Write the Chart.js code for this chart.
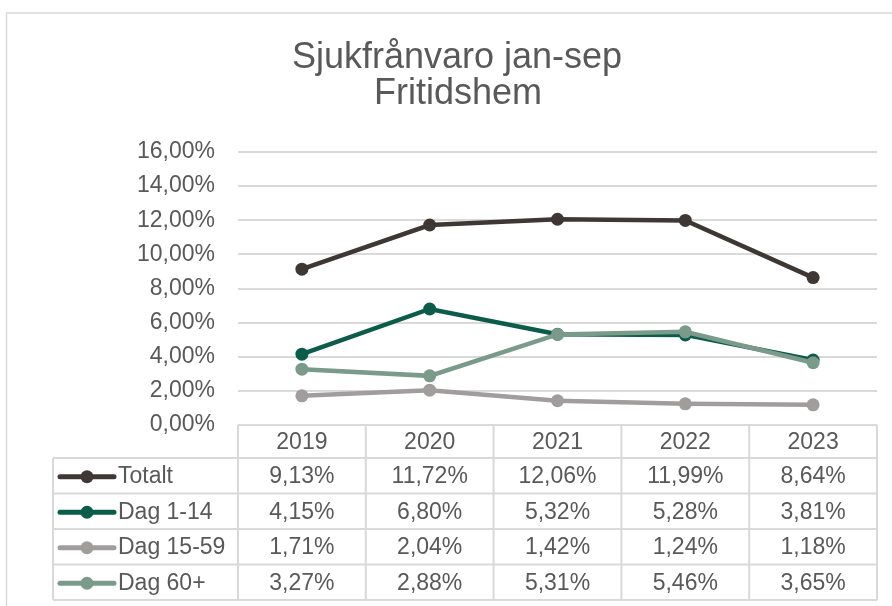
<!DOCTYPE html>
<html lang="sv">
<head>
<meta charset="UTF-8">
<title>Sjukfrånvaro jan-sep Fritidshem</title>
<script src="https://cdn.jsdelivr.net/npm/chart.js"></script>
<style>
    html, body {
        margin: 0;
        padding: 0;
        background: #ffffff;
    }
    #chart-container {
        width: 892px;
        height: 606px;
        position: relative;
    }
</style>
</head>
<body>
<div id="chart-container">
    <canvas id="sick-chart"></canvas>
</div>
<script>
    // Data (procent)
    const years = ['2019', '2020', '2021', '2022', '2023'];
    const seriesNames = ['Totalt', 'Dag 1-14', 'Dag 15-59', 'Dag 60+'];
    const totalt = [9.13, 11.72, 12.06, 11.99, 8.64];
    const dag1_14 = [4.15, 6.80, 5.32, 5.28, 3.81];
    const dag15_59 = [1.71, 2.04, 1.42, 1.24, 1.18];
    const dag60 = [3.27, 2.88, 5.31, 5.46, 3.65];
    const titleLines = ['Sjukfrånvaro jan-sep', 'Fritidshem'];

    const colors = ['#3f3734', '#0b5c4a', '#a29d9d', '#7a9a8a'];
    const textColor = '#595959';
    const lineColor = '#d9d9d9';
    const fontFamily = '"Liberation Sans", Arial, sans-serif';

    function fmt(v) {
        return v.toFixed(2).replace('.', ',') + '%';
    }

    // titel, ram och datatabell
    const tablePlugin = {
        id: 'tablePlugin',
        afterDraw(chart) {
            const ctx = chart.ctx;
            const area = chart.chartArea;
            const xs = chart.scales.x;
            ctx.save();

            // yttre ram
            ctx.strokeStyle = lineColor;
            ctx.lineWidth = 1.5;
            ctx.strokeRect(6.5, 13, 900, 620);

            // titel
            ctx.fillStyle = textColor;
            ctx.font = '36px ' + fontFamily;
            ctx.textAlign = 'center';
            ctx.textBaseline = 'alphabetic';
            ctx.fillText(titleLines[0], 457, 68);
            ctx.fillText(titleLines[1], 458, 104);

            const colW = (area.right - area.left) / years.length;
            const headTop = area.bottom;
            const headBottom = 458;
            const rowH = 35.5;
            const tableLeft = 53;
            const allData = [totalt, dag1_14, dag15_59, dag60];
            const bottom = headBottom + rowH * allData.length;

            ctx.strokeStyle = lineColor;
            ctx.lineWidth = 2;
            ctx.beginPath();
            // rubrikrad
            ctx.moveTo(area.left, headTop);
            ctx.lineTo(area.right, headTop);
            for (let r = 0; r <= allData.length; r++) {
                const y = headBottom + r * rowH;
                ctx.moveTo(tableLeft, y);
                ctx.lineTo(area.right, y);
            }
            ctx.moveTo(tableLeft, headBottom);
            ctx.lineTo(tableLeft, bottom);
            for (let c = 0; c <= years.length; c++) {
                const x = area.left + c * colW;
                ctx.moveTo(x, headTop);
                ctx.lineTo(x, bottom);
            }
            ctx.stroke();

            ctx.font = '23px ' + fontFamily;
            ctx.textBaseline = 'middle';
            ctx.fillStyle = textColor;
            ctx.textAlign = 'center';
            years.forEach((yr, i) => {
                ctx.fillText(yr, xs.getPixelForValue(i), (headTop + headBottom) / 2 + 1);
            });

            allData.forEach((vals, r) => {
                const cy = headBottom + r * rowH + rowH / 2 + 1;
                // förklaring
                ctx.strokeStyle = colors[r];
                ctx.lineWidth = 5;
                ctx.lineCap = 'round';
                ctx.beginPath();
                ctx.moveTo(60, cy);
                ctx.lineTo(114, cy);
                ctx.stroke();
                ctx.fillStyle = colors[r];
                ctx.beginPath();
                ctx.arc(87, cy, 6.5, 0, Math.PI * 2);
                ctx.fill();

                ctx.fillStyle = textColor;
                ctx.textAlign = 'left';
                ctx.fillText(seriesNames[r], 118, cy);
                ctx.textAlign = 'center';
                vals.forEach((v, i) => {
                    ctx.fillText(fmt(v), xs.getPixelForValue(i), cy);
                });
            });
            ctx.restore();
        }
    };

    const allSeries = [totalt, dag1_14, dag15_59, dag60];
    const datasets = allSeries.map((vals, i) => ({
        label: seriesNames[i],
        data: vals,
        borderColor: colors[i],
        backgroundColor: colors[i],
        borderWidth: 4.5,
        pointRadius: 6.5,
        pointBorderWidth: 0,
        pointHoverRadius: 6.5,
        tension: 0,
        order: 4 - i
    }));

    const ctx = document.getElementById('sick-chart').getContext('2d');
    const myChart = new Chart(ctx, {
        type: 'line',
        data: {
            labels: years,
            datasets: datasets
        },
        options: {
            responsive: true,
            maintainAspectRatio: false,
            animation: false,
            layout: {
                padding: { top: 152, bottom: 181, left: 0, right: 15 }
            },
            plugins: {
                legend: { display: false },
                title: { display: false },
                tooltip: { enabled: false }
            },
            scales: {
                x: {
                    display: false,
                    offset: true
                },
                y: {
                    min: 0,
                    max: 16,
                    ticks: {
                        stepSize: 2,
                        padding: 23,
                        color: textColor,
                        font: { family: fontFamily, size: 23 },
                        callback: (v) => fmt(v)
                    },
                    grid: {
                        color: lineColor,
                        lineWidth: 2,
                        drawTicks: false
                    },
                    border: { display: false },
                    afterFit(scale) {
                        scale.width = 238;
                    }
                }
            }
        },
        plugins: [tablePlugin]
    });
</script>
</body>
</html>
